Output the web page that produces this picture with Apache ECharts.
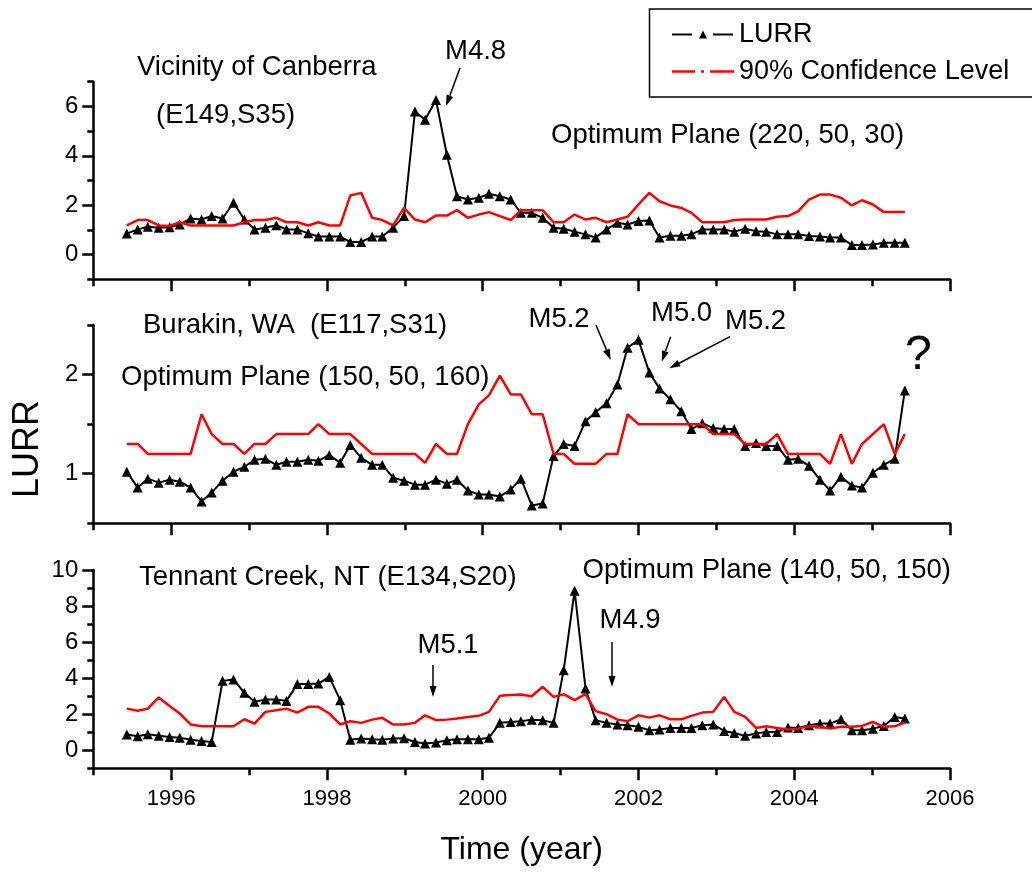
<!DOCTYPE html>
<html><head><meta charset="utf-8">
<script src="https://cdn.jsdelivr.net/npm/echarts@6/dist/echarts.min.js"></script>
<style>html,body{margin:0;padding:0;background:#fff}#chart{width:1032px;height:872px}</style>
</head><body><div id="chart"></div>
<script>
// ---- data ----
const times = [1995.43,1995.57,1995.70,1995.84,1995.98,1996.11,1996.25,1996.39,1996.52,1996.66,
1996.80,1996.94,1997.07,1997.21,1997.35,1997.48,1997.62,1997.76,1997.89,1998.03,
1998.17,1998.30,1998.44,1998.58,1998.71,1998.85,1998.99,1999.13,1999.26,1999.40,
1999.54,1999.67,1999.81,1999.95,2000.08,2000.22,2000.36,2000.49,2000.63,2000.77,
2000.91,2001.04,2001.18,2001.32,2001.45,2001.59,2001.73,2001.86,2002.00,2002.14,
2002.27,2002.41,2002.55,2002.68,2002.82,2002.96,2003.10,2003.23,2003.37,2003.51,
2003.64,2003.78,2003.92,2004.05,2004.19,2004.33,2004.46,2004.60,2004.74,2004.87,
2005.01,2005.15,2005.29,2005.42];

const canberraLURR = [0.85,1.02,1.13,1.09,1.11,1.22,1.46,1.42,1.56,1.46,2.10,1.42,1.02,1.09,1.19,1.02,1.02,0.86,0.73,0.73,0.73,0.51,0.51,0.73,0.73,1.09,1.56,
5.79,5.46,6.26,4.04,2.36,2.23,2.30,2.46,2.36,2.23,1.69,1.69,1.49,1.09,1.05,0.93,0.82,0.69,1.02,1.29,1.22,1.36,1.38,0.69,0.76,0.76,0.82,1.02,1.02,1.02,
0.93,1.05,0.95,0.93,0.82,0.82,0.82,0.75,0.73,0.69,0.69,0.39,0.39,0.41,0.48,0.48,0.48];
const canberraCL = [1.18,1.40,1.40,1.18,1.16,1.31,1.18,1.18,1.18,1.18,1.18,1.31,1.40,1.40,1.49,1.31,1.31,1.18,1.31,1.18,1.18,2.39,2.50,1.49,1.40,1.18,1.89,
1.42,1.31,1.58,1.58,1.80,1.49,1.62,1.72,1.56,1.40,1.80,1.80,1.80,1.31,1.31,1.62,1.42,1.49,1.31,1.42,1.53,2.03,2.50,2.16,1.99,1.89,1.69,1.31,1.31,1.31,
1.40,1.42,1.42,1.42,1.53,1.56,1.75,2.23,2.43,2.43,2.30,1.99,2.20,2.03,1.72,1.72,1.72];

const burakinLURR = [1.02,0.86,0.95,0.91,0.94,0.92,0.86,0.72,0.81,0.93,1.02,1.07,1.14,1.15,1.09,1.12,1.12,1.14,1.13,1.19,1.11,1.29,1.16,1.09,1.09,0.96,0.93,
0.89,0.89,0.94,0.90,0.94,0.83,0.79,0.79,0.77,0.84,0.95,0.68,0.70,1.18,1.30,1.28,1.53,1.62,1.71,1.90,2.27,2.35,2.02,1.86,1.75,1.63,1.45,
1.51,1.46,1.45,1.45,1.28,1.31,1.28,1.28,1.14,1.15,1.08,0.94,0.83,0.97,0.88,0.86,1.01,1.09,1.15,1.84];
const burakinCL = [1.30,1.30,1.20,1.20,1.20,1.20,1.20,1.60,1.40,1.30,1.30,1.20,1.30,1.30,1.40,1.40,1.40,1.40,1.50,1.40,1.40,1.40,1.30,1.20,1.20,1.20,
1.20,1.20,1.11,1.30,1.20,1.20,1.50,1.70,1.79,1.99,1.80,1.80,1.60,1.60,1.20,1.20,1.10,1.10,1.10,1.20,1.20,1.60,1.50,1.50,1.50,1.50,1.50,1.50,1.50,
1.40,1.40,1.40,1.30,1.30,1.30,1.40,1.20,1.20,1.20,1.20,1.10,1.40,1.10,1.30,1.40,1.50,1.20,1.40];

const tennantLURR = [0.87,0.78,0.89,0.80,0.74,0.70,0.59,0.52,0.46,3.85,3.93,3.19,2.69,2.81,2.81,2.74,3.67,3.67,3.70,4.07,2.78,0.59,0.65,0.61,0.59,0.65,0.67,
0.46,0.37,0.43,0.56,0.61,0.61,0.61,0.69,1.52,1.57,1.61,1.70,1.67,1.52,4.44,8.85,3.43,1.67,1.52,1.43,1.39,1.30,1.11,1.15,1.24,1.24,1.24,
1.39,1.43,1.07,0.96,0.80,0.93,1.02,1.02,1.26,1.24,1.39,1.48,1.48,1.72,1.11,1.11,1.20,1.35,1.85,1.76];
const tennantCL = [2.31,2.19,2.31,2.93,2.46,2.04,1.43,1.33,1.33,1.33,1.33,1.72,1.48,2.13,2.22,2.31,2.09,2.41,2.41,2.04,1.43,1.61,1.52,1.70,1.80,1.43,
1.43,1.52,1.94,1.67,1.70,1.76,1.85,1.91,2.13,3.02,3.06,3.09,3.00,3.52,2.96,3.11,2.78,3.11,2.17,2.00,1.70,1.61,1.94,1.81,1.94,1.72,1.72,1.91,2.09,2.13,2.96,2.13,1.85,1.24,
1.33,1.24,1.15,1.20,1.33,1.30,1.20,1.30,1.30,1.35,1.57,1.30,1.33,1.54];

const yearLabels = [1996,1998,2000,2002,2004,2006];
const yearMinor = [1995,1997,1999,2001,2003,2005];
const canberraYLabels = [0,2,4,6];
const canberraYMinor = [-1,1,3,5,7];
const burakinYLabels = [1,2];
const burakinYMinor = [0.5,1.5,2.5];
const tennantYLabels = [0,2,4,6,8,10];
const tennantYMinor = [-1,1,3,5,7,9];

// ---- layout / styles ----
const FONT = "'Liberation Sans', Arial, Helvetica, sans-serif";
const panels = [
  {lurr: canberraLURR, cl: canberraCL, min: -1, max: 7, interval: 1, labels: canberraYLabels, minor: canberraYMinor, top: 81.7, height: 197.6},
  {lurr: burakinLURR, cl: burakinCL, min: 0.5, max: 2.5, interval: 0.5, labels: burakinYLabels, minor: burakinYMinor, top: 325, height: 198.3},
  {lurr: tennantLURR, cl: tennantCL, min: -1, max: 10, interval: 1, labels: tennantYLabels, minor: tennantYMinor, top: 570, height: 198.3}
];
const AX = {color: '#000', width: 2.5};

const grid = [], xAxis = [], yAxis = [], series = [];
panels.forEach((p, g) => {
  grid.push({left: 93.3, width: 856.7, top: p.top, height: p.height, containLabel: false});
  const last = g === 2;
  xAxis.push({
    gridIndex: g, type: 'value', min: 1995, max: 2006, interval: 1, position: 'bottom',
    axisLine: {show: true, onZero: false, lineStyle: AX},
    axisTick: {show: true, customValues: yearLabels, length: 12, lineStyle: AX},
    axisLabel: {show: true, customValues: yearLabels, fontSize: 22, color: '#000', fontFamily: FONT, margin: 20,
      formatter: last ? (v => String(v)) : (() => '')},
    splitLine: {show: false},
    name: last ? 'Time (year)' : '', nameLocation: 'middle', nameGap: 66,
    nameTextStyle: {fontSize: 32, color: '#000', fontFamily: FONT}
  });
  xAxis.push({
    gridIndex: g, type: 'value', min: 1995, max: 2006, interval: 1, position: 'bottom',
    axisLine: {show: false, onZero: false}, axisTick: {show: true, customValues: yearMinor, length: 7, lineStyle: AX},
    axisLabel: {show: true, customValues: yearMinor, formatter: () => ''}, splitLine: {show: false}
  });
  yAxis.push({
    gridIndex: g, type: 'value', min: p.min, max: p.max, interval: p.interval, position: 'left',
    axisLine: {show: true, onZero: false, lineStyle: AX},
    axisTick: {show: true, customValues: p.labels, length: 11, lineStyle: AX},
    axisLabel: {show: true, customValues: p.labels, fontSize: 24, color: '#000', fontFamily: FONT, margin: 15,
      formatter: v => String(v)},
    splitLine: {show: false}
  });
  yAxis.push({
    gridIndex: g, type: 'value', min: p.min, max: p.max, interval: p.interval, position: 'left',
    axisLine: {show: false, onZero: false}, axisTick: {show: true, customValues: p.minor, length: 6, lineStyle: AX},
    axisLabel: {show: true, customValues: p.minor, formatter: () => ''}, splitLine: {show: false}
  });
  series.push({
    name: 'LURR', type: 'line', xAxisIndex: 2 * g, yAxisIndex: 2 * g,
    data: times.map((t, i) => [t, p.lurr[i]]),
    symbol: 'triangle', symbolSize: 10, showAllSymbol: true,
    itemStyle: {color: '#000'}, lineStyle: {color: '#000', width: 2}, z: 3
  });
  series.push({
    name: '90% Confidence Level', type: 'line', xAxisIndex: 2 * g, yAxisIndex: 2 * g,
    data: times.map((t, i) => [t, p.cl[i]]),
    symbol: 'none', itemStyle: {color: '#ff0000'}, lineStyle: {color: '#ff0000', width: 2.5}, z: 4
  });
});

function txt(x, y, text, size) {
  return {type: 'text', x: x, y: y, style: {text: text, fontSize: size || 27.5, fontFamily: FONT, fill: '#000',
    align: 'left', verticalAlign: 'middle', textAlign: 'left', textVerticalAlign: 'middle'}};
}
function arrow(x1, y1, x2, y2) {
  const a = Math.atan2(y2 - y1, x2 - x1), L = 11, W = 3.5;
  const bx = x2 - L * Math.cos(a), by = y2 - L * Math.sin(a);
  const px = -Math.sin(a) * W, py = Math.cos(a) * W;
  return [
    {type: 'line', shape: {x1: x1, y1: y1, x2: bx, y2: by}, style: {stroke: '#000', lineWidth: 1.5}},
    {type: 'polygon', shape: {points: [[x2, y2], [bx + px, by + py], [bx - px, by - py]]}, style: {fill: '#000'}}
  ];
}

const graphics = [
  {type: 'rect', shape: {x: 649.5, y: 9, width: 400, height: 88}, style: {fill: 'none', stroke: '#000', lineWidth: 1.5}},
  txt(137, 67, 'Vicinity of Canberra'),
  txt(156, 115, '(E149,S35)'),
  txt(445, 51, 'M4.8'),
  txt(551, 135.5, 'Optimum Plane (220, 50, 30)'),
  txt(143, 325, 'Burakin, WA  (E117,S31)'),
  txt(121, 377, 'Optimum Plane (150, 50, 160)'),
  txt(528.5, 319, 'M5.2'),
  txt(651, 313.5, 'M5.0'),
  txt(725, 321, 'M5.2'),
  txt(905, 356, '?', 48),
  txt(139, 577, 'Tennant Creek, NT (E134,S20)'),
  txt(582.5, 570, 'Optimum Plane (140, 50, 150)'),
  txt(417.5, 645, 'M5.1'),
  txt(599.5, 620, 'M4.9'),
  {type: 'text', x: 28, y: 449, rotation: Math.PI / 2, style: {text: 'LURR', fontSize: 36, fontFamily: FONT, fill: '#000',
    align: 'center', verticalAlign: 'middle', textAlign: 'center', textVerticalAlign: 'middle'}}
].concat(
  arrow(460, 68, 446, 106),
  arrow(596, 325, 610.7, 360),
  arrow(670.7, 336.7, 661.7, 361.7),
  arrow(730, 336.7, 669.3, 368.3),
  arrow(433, 665, 433, 697),
  arrow(612, 642, 612, 687)
);

const option = {
  backgroundColor: '#fff',
  animation: false,
  grid: grid, xAxis: xAxis, yAxis: yAxis, series: series,
  legend: {
    data: [
      {name: 'LURR', lineStyle: {type: [20, 21]}},
      {name: '90% Confidence Level',
       icon: 'path://M0,0h0.01v0.01h-0.01z M0,3.8h23v2.5h-23z M29,3.8h3v2.5h-3z M38,3.8h24v2.5h-24z M61.99,9.99h0.01v0.01h-0.01z',
       itemStyle: {color: '#ff0000', borderWidth: 0}}
    ],
    orient: 'vertical', left: 671, top: 21, itemWidth: 62, itemHeight: 10, itemGap: 10, padding: 0,
    selectedMode: false, textStyle: {fontSize: 27, color: '#000', fontFamily: FONT}
  },
  graphic: {elements: graphics}
};
const chart = echarts.init(document.getElementById('chart'));
chart.setOption(option);
</script></body></html>
